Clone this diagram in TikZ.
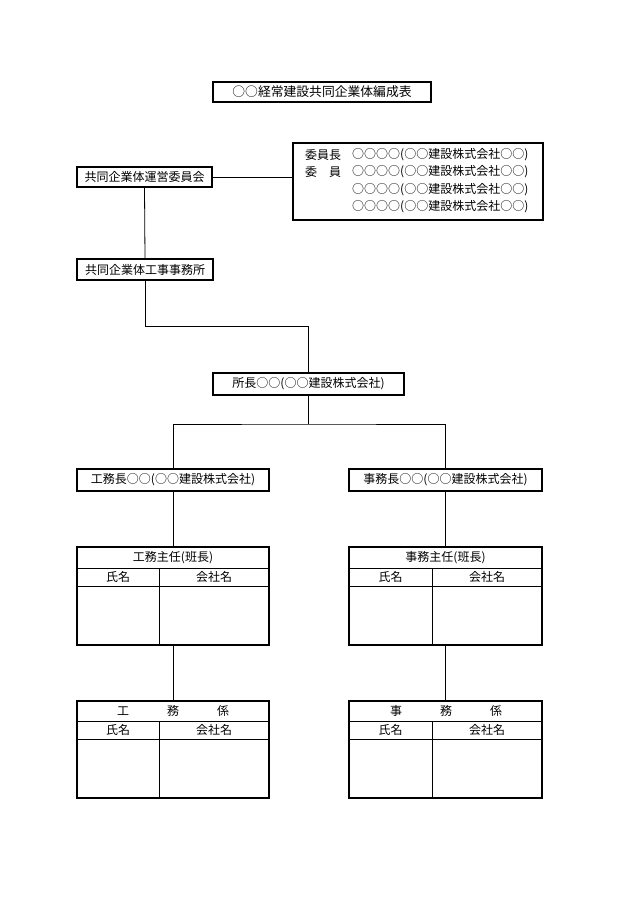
\documentclass[tikz,border=0pt]{standalone}
\usepackage{fontspec}
\newfontfamily\jp{Noto Sans CJK JP}
\newfontfamily\jpfw[RawFeature=+fwid]{Noto Sans CJK JP}
\newcommand\mr{{\jpfw ○}}
\begin{document}
\begin{tikzpicture}[x=1pt,y=-1pt,
  every node/.style={font=\jp\fontsize{12}{14}\selectfont, inner sep=0pt},
  box/.style={draw, line width=1.4pt, anchor=center},
  conn/.style={line width=0.8pt},
  tline/.style={line width=0.8pt},
  txt/.style={anchor=center}]
\fill[white] (0,0) rectangle (630,915);
\useasboundingbox (0,0) rectangle (630,915);

% title
\node[box, minimum width=218pt, minimum height=20pt, font=\jp\fontsize{12.8}{14}\selectfont] (title) at (322,92) {\mr\mr 経常建設共同企業体編成表};

% committee
\node[box, minimum width=135pt, minimum height=20pt] (iinkai) at (144.5,177) {共同企業体運営委員会};
\node[box, minimum width=250pt, minimum height=77pt] (members) at (418,181.5) {};
\node[anchor=west] (l1) at (305,155) {委員長};
\node[anchor=west] (l2) at (305,172) {委　員};
\node[anchor=west] (n1) at (352,155) {\mr\mr\mr\mr(\mr\mr 建設株式会社\mr\mr)};
\node[anchor=west] (n2) at (352,172) {\mr\mr\mr\mr(\mr\mr 建設株式会社\mr\mr)};
\node[anchor=west] (n3) at (352,190) {\mr\mr\mr\mr(\mr\mr 建設株式会社\mr\mr)};
\node[anchor=west] (n4) at (352,207) {\mr\mr\mr\mr(\mr\mr 建設株式会社\mr\mr)};
\draw[conn] (iinkai.east) -- (iinkai.east -| members.west);

% office
\node[box, minimum width=136pt, minimum height=21pt] (office) at (145,269.5) {共同企業体工事事務所};
\draw[conn] (iinkai.south) -- (office.north);

% director
\node[box, minimum width=191pt, minimum height=22pt] (chief) at (308.5,384) {所長\mr\mr(\mr\mr 建設株式会社)};
\coordinate (c1) at (145,326);
\draw[conn] (office.south) -- (c1) -| (chief.north);

% section heads
\node[box, minimum width=192pt, minimum height=22pt] (koumu) at (173,480) {工務長\mr\mr(\mr\mr 建設株式会社)};
\node[box, minimum width=193pt, minimum height=22pt] (jimu) at (445.5,480) {事務長\mr\mr(\mr\mr 建設株式会社)};
\coordinate (c2) at (308.5,424);
\draw[conn] (chief.south) -- (c2);
\draw[conn] (koumu.north) |- (c2) -| (jimu.north);

% tables: koumu shunin
\node[box, minimum width=192pt, minimum height=98pt] (t1) at (173,596) {};
\draw[tline] (77,568) -- (269,568) (77,586) -- (269,586) (159,568) -- (159,645);
\node[txt] (t1h) at (173,557.5) {工務主任(班長)};
\node[txt] (t1a) at (118,577) {氏名};
\node[txt] (t1b) at (214,577) {会社名};

% jimu shunin
\node[box, minimum width=193pt, minimum height=98pt] (t2) at (445.5,596) {};
\draw[tline] (349,568) -- (542,568) (349,586) -- (542,586) (432,568) -- (432,645);
\node[txt] (t2h) at (445.5,557.5) {事務主任(班長)};
\node[txt] (t2a) at (390.5,577) {氏名};
\node[txt] (t2b) at (487,577) {会社名};

% koumu gakari
\node[box, minimum width=192pt, minimum height=97pt] (t3) at (173,749.5) {};
\draw[tline] (77,721) -- (269,721) (77,739) -- (269,739) (159,721) -- (159,798);
\node[txt] (t3h) at (173,711) {工\hspace{38pt}務\hspace{38pt}係};
\node[txt] (t3a) at (118,730) {氏名};
\node[txt] (t3b) at (214,730) {会社名};

% jimu gakari
\node[box, minimum width=193pt, minimum height=97pt] (t4) at (445.5,749.5) {};
\draw[tline] (349,721) -- (542,721) (349,739) -- (542,739) (432,721) -- (432,798);
\node[txt] (t4h) at (446,711) {事\hspace{38pt}務\hspace{38pt}係};
\node[txt] (t4a) at (390.5,730) {氏名};
\node[txt] (t4b) at (487,730) {会社名};

% vertical connectors
\draw[conn] (koumu.south) -- (koumu.south |- t1.north);
\draw[conn] (koumu.south |- t1.south) -- (koumu.south |- t3.north);
\draw[conn] (jimu.south) -- (jimu.south |- t2.north);
\draw[conn] (jimu.south |- t2.south) -- (jimu.south |- t4.north);
\end{tikzpicture}
\end{document}
